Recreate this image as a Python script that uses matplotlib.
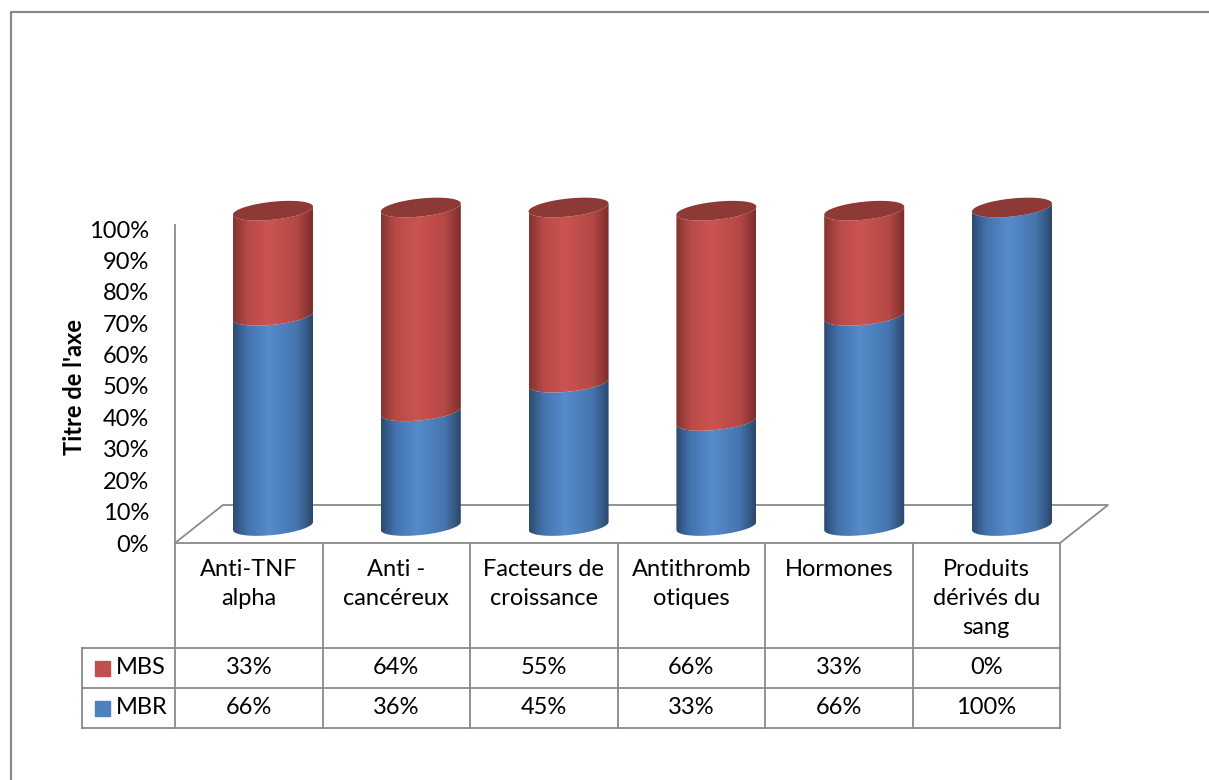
import matplotlib.pyplot as plt
import numpy as np
from matplotlib.colors import LinearSegmentedColormap
from matplotlib.patches import Polygon, Rectangle

plt.rcParams['font.family'] = ['Lato', 'DejaVu Sans']

categories = ["Anti-TNF\nalpha", "Anti -\ncancéreux", "Facteurs de\ncroissance",
              "Antithromb\notiques", "Hormones", "Produits\ndérivés du\nsang"]
mbs = [33, 64, 55, 66, 33, 0]
mbr = [66, 36, 45, 33, 66, 100]
series_names = ["MBS", "MBR"]
tick_labels = ["0%", "10%", "20%", "30%", "40%", "50%", "60%", "70%", "80%", "90%", "100%"]

W, H = 1209, 780
FS = 17
fig = plt.figure(figsize=(W / 100, H / 100), dpi=100)
fig.patch.set_facecolor("white")

grey = "#8a8a8a"
blue_cmap = LinearSegmentedColormap.from_list(
    "cyl_blue", [(0, "#2c4a70"), (0.18, "#4373ad"), (0.45, "#568bcc"),
                 (0.8, "#4675ae"), (1, "#2b476b")])
red_cmap = LinearSegmentedColormap.from_list(
    "cyl_red", [(0, "#843331"), (0.18, "#b74a47"), (0.45, "#cb5451"),
                (0.8, "#b44845"), (1, "#7a2e2c")])
cap_red = "#8d3936"

# pixel overlay for frame, floor and table
ov = fig.add_axes([0, 0, 1, 1])
ov.set_xlim(0, W)
ov.set_ylim(H, 0)
ov.axis("off")

ov.plot([10.5, 10.5, W + 5], [H + 5, 12, 12], color=grey, lw=1.6)

n = len(categories)
x0, cw = 175, 147.5
edges = [x0 + i * cw for i in range(n + 1)]
y_front, y_back, depth = 543, 505, 48
# floor
ov.plot([edges[0], edges[0] + depth, edges[-1] + depth, edges[-1]],
        [y_front, y_back, y_back, y_front], color=grey, lw=1.3)
# vertical axis line
ov.plot([edges[0], edges[0]], [225, y_front], color=grey, lw=1.3)

# data table
row_h = [648, 688, 728]
leg_x = 82
ov.plot([edges[0], edges[-1]], [y_front, y_front], color=grey, lw=1.3)
for y in row_h:
    ov.plot([leg_x, edges[-1]], [y, y], color=grey, lw=1.3)
for i, x in enumerate(edges):
    ov.plot([x, x], [y_front, row_h[-1]], color=grey, lw=1.3)
ov.plot([leg_x, leg_x], [row_h[0], row_h[-1]], color=grey, lw=1.3)

for i, cat in enumerate(categories):
    cx = (edges[i] + edges[i + 1]) / 2
    ov.text(cx, 559, cat, ha="center", va="top", fontsize=FS,
            linespacing=1.47, color="#000000")
    ov.text(cx, (row_h[0] + row_h[1]) / 2, f"{mbs[i]}%", ha="center",
            va="center", fontsize=FS)
    ov.text(cx, (row_h[1] + row_h[2]) / 2, f"{mbr[i]}%", ha="center",
            va="center", fontsize=FS)

for j, (name, col) in enumerate(zip(series_names, ["#c0504d", "#4f81bd"])):
    yc = (row_h[j] + row_h[j + 1]) / 2
    ov.add_patch(Rectangle((95, yc - 7.5), 15, 15, color=col))
    ov.text(116, yc, name, ha="left", va="center", fontsize=FS)

# front plane axes: tick labels
fa = fig.add_axes([175 / W, 1 - 543 / H, 0.01, (543 - 229) / H])
fa.set_ylim(0, 1)
fa.set_yticks(np.linspace(0, 1, len(tick_labels)))
fa.set_yticklabels(tick_labels, fontsize=FS)
fa.tick_params(axis="y", length=0, pad=18.5)
fa.set_xticks([])
for s in fa.spines.values():
    s.set_visible(False)
fa.patch.set_alpha(0)
fig.text(75 / W, 1 - 387 / H, "Titre de l'axe", rotation=90, ha="center",
         va="center", fontsize=FS, fontweight="bold")

# cylinders
px_x, px_y = 147.8, 318.5
ax_left, ax_right = 273 - px_x / 2, 1012 + px_x / 2
ax_bot, ax_top = 526 + 0.06 * px_y, 207.5 - 0.06 * px_y
ax = fig.add_axes([ax_left / W, 1 - ax_bot / H, (ax_right - ax_left) / W,
                   (ax_bot - ax_top) / H])
ax.axis("off")
ax.patch.set_alpha(0)

a = 40 / px_x
b = 9 / px_y
k = (4 / px_y) / a
t_front = np.linspace(np.pi, 2 * np.pi, 80)
t_full = np.linspace(0, 2 * np.pi, 160)
grad = np.linspace(0, 1, 256).reshape(1, -1)


def front_arc(cx, v):
    xs = cx + a * np.cos(t_front)
    ys = v + b * np.sin(t_front) + k * (xs - cx)
    return np.column_stack([xs, ys])


for i in range(n):
    lo = 0.0
    for val, cmap in [(mbr[i], blue_cmap), (mbs[i], red_cmap)]:
        hi = lo + val / 100
        if hi > lo:
            pts = np.vstack([front_arc(i, lo), front_arc(i, hi)[::-1]])
            poly = Polygon(pts, closed=True, fc="none", ec="none")
            ax.add_patch(poly)
            im = ax.imshow(grad, cmap=cmap, aspect="auto",
                           extent=[i - a, i + a, lo - 2 * b, hi + 2 * b])
            im.set_clip_path(poly)
        lo = hi
    xs = i + a * np.cos(t_full)
    ys = lo + b * np.sin(t_full) + k * (xs - i)
    ax.add_patch(Polygon(np.column_stack([xs, ys]), closed=True,
                         fc=cap_red, ec="none"))

ax.set_xlim(-0.5, n - 0.5)
ax.set_ylim(-0.06, 1.06)

fig.savefig("out.png", dpi=100)
